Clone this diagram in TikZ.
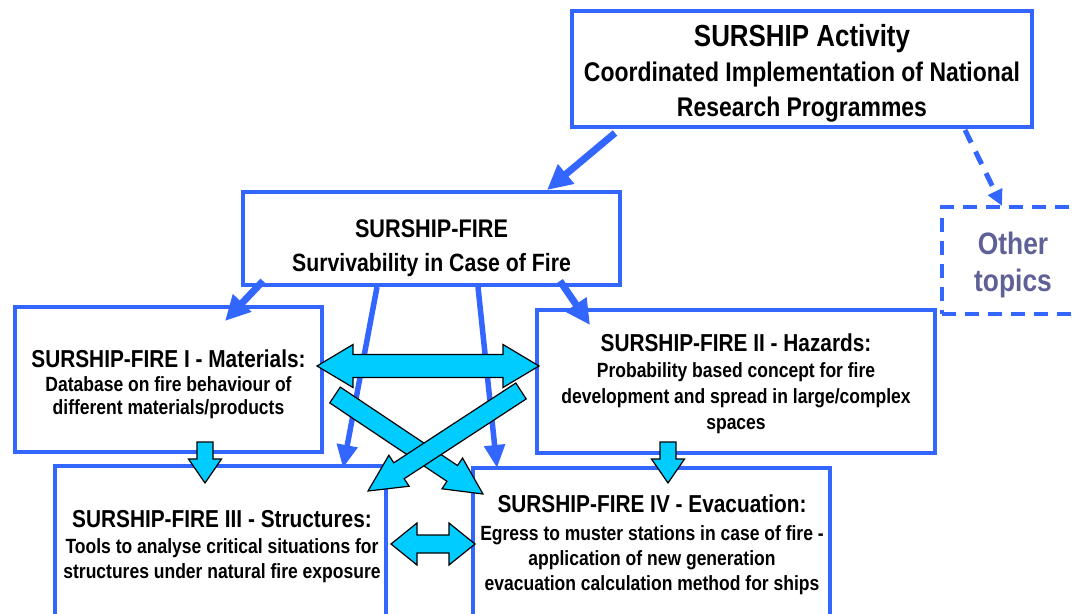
\documentclass[tikz,border=0pt]{standalone}
\usepackage{fontspec}
\setmainfont{Liberation Sans}[FakeStretch=0.85]
\usetikzlibrary{arrows.meta,calc}
\definecolor{bblue}{RGB}{51,102,255}
\definecolor{cyanf}{RGB}{0,204,255}
\definecolor{slate}{RGB}{94,96,150}
\newcommand{\fsz}[1]{\fontsize{#1}{#1}\selectfont\bfseries}
\newcommand\myArrowSingle[5]{%
  \coordinate (hbase) at ($(#2)!#5!(#1)$);
  \draw[cyanarrow] ($(#1)!#3!90:(#2)$) -- ($(hbase)!#3!90:(#2)$) -- ($(hbase)!#4!90:(#2)$) -- (#2)
    -- ($(hbase)!#4!-90:(#2)$) -- ($(hbase)!#3!-90:(#2)$) -- ($(#1)!#3!-90:(#2)$) -- cycle;}
\newcommand\myArrowDouble[5]{%
  \coordinate (hbA) at ($(#1)!#5!(#2)$);
  \coordinate (hbB) at ($(#2)!#5!(#1)$);
  \draw[cyanarrow] (#1) -- ($(hbA)!#4!90:(#2)$) -- ($(hbA)!#3!90:(#2)$) -- ($(hbB)!#3!90:(#2)$)
    -- ($(hbB)!#4!90:(#2)$) -- (#2) -- ($(hbB)!#4!-90:(#2)$) -- ($(hbB)!#3!-90:(#2)$)
    -- ($(hbA)!#3!-90:(#2)$) -- ($(hbA)!#4!-90:(#2)$) -- cycle;}
\begin{document}
\begin{tikzpicture}[x=1pt,y=-1pt,
  box/.style={draw=bblue, line width=4pt, rectangle, inner sep=0pt},
  dbox/.style={box, dash pattern=on 14pt off 9pt},
  txt/.style={anchor=base, inner sep=0pt, text=black},
  conn/.style={draw=bblue, line width=7pt, -{Triangle[length=25pt,width=24pt]}},
  thinconn/.style={draw=bblue, line width=5.5pt, -{Triangle[length=23pt,width=20pt]}},
  dconn/.style={draw=bblue, line width=5pt, dash pattern=on 14pt off 10pt, -{Triangle[length=16pt,width=15pt]}},
  cyanarrow/.style={fill=cyanf, draw=black, line width=1.2pt, line join=miter}]
\useasboundingbox (0,0) rectangle (1078,613);
\clip (0,0) rectangle (1078,613);
% boxes
\node[box, minimum width=460pt, minimum height=116pt] (act) at (802,69) {};
\node[box, minimum width=377pt, minimum height=93pt] (fire) at (431.5,238.5) {};
\node[dbox, minimum width=148pt, minimum height=107pt] (other) at (1016,260.5) {};
\node[box, minimum width=307pt, minimum height=145pt] (mat) at (168.5,379.5) {};
\node[box, minimum width=398pt, minimum height=143pt] (haz) at (736,381.5) {};
\node[box, minimum width=331pt, minimum height=174pt] (str) at (220.5,553) {};
\node[box, minimum width=357pt, minimum height=172pt] (evac) at (651.5,554) {};
% connector end points
\coordinate (a1) at (615,133); \coordinate (a2) at (547,190);
\coordinate (o1) at (965,130); \coordinate (o2) at (1002,206);
\coordinate (m1) at (263,281); \coordinate (m2) at (225,321);
\coordinate (h1) at (560,281); \coordinate (h2) at (590,325);
\coordinate (s1) at (377,287); \coordinate (s2) at (343,468);
\coordinate (e1) at (478,287); \coordinate (e2) at (497,468);
\draw[conn] (a1) -- (a2);
\draw[dconn] (o1) -- (o2);
\draw[conn] (m1) -- (m2);
\draw[conn] (h1) -- (h2);
\draw[thinconn] (s1) -- (s2);
\draw[thinconn] (e1) -- (e2);
% cyan arrows
\coordinate (c1a) at (317,366); \coordinate (c1b) at (539,366);
\coordinate (c2a) at (335,395); \coordinate (c2b) at (483,494);
\coordinate (c3a) at (521,391); \coordinate (c3b) at (368,491);
\coordinate (c4a) at (391,544); \coordinate (c4b) at (475,544);
\coordinate (c5a) at (205,442); \coordinate (c5b) at (205,483);
\coordinate (c6a) at (668,442); \coordinate (c6b) at (668,483);
\myArrowSingle{c2a}{c2b}{9.5pt}{18.5pt}{37pt}
\myArrowSingle{c3a}{c3b}{9.5pt}{18.5pt}{37pt}
\myArrowDouble{c1a}{c1b}{11.5pt}{21.5pt}{36pt}
\myArrowDouble{c4a}{c4b}{9pt}{21pt}{26pt}
\myArrowSingle{c5a}{c5b}{8pt}{16.5pt}{24pt}
\myArrowSingle{c6a}{c6b}{8pt}{16.5pt}{24pt}
% texts
\node[txt] (actT1) at (802,46) {\fsz{30.5}SURSHIP Activity};
\node[txt] (actT2) at (802,81) {\fsz{27}Coordinated Implementation of National};
\node[txt] (actT3) at (802,116) {\fsz{27}Research Programmes};
\node[txt] (fireT1) at (431.5,237) {\fsz{25.5}SURSHIP-FIRE};
\node[txt] (fireT2) at (431.5,271) {\fsz{25}Survivability in Case of Fire};
\node[txt, text=slate] (othT1) at (1013,254) {\fsz{31}Other};
\node[txt, text=slate] (othT2) at (1013,291) {\fsz{31}topics};
\node[txt] (matT1) at (168.5,367) {\fsz{24.5}SURSHIP-FIRE I - Materials:};
\node[txt] (matT2) at (168.5,391) {\fsz{20.6}Database on fire behaviour of};
\node[txt] (matT3) at (168.5,414) {\fsz{20.6}different materials/products};
\node[txt] (hazT1) at (736,351) {\fsz{24.5}SURSHIP-FIRE II - Hazards:};
\node[txt] (hazT2) at (736,377) {\fsz{20.6}Probability based concept for fire};
\node[txt] (hazT3) at (736,403) {\fsz{20.6}development and spread in large/complex};
\node[txt] (hazT4) at (736,429) {\fsz{20.6}spaces};
\node[txt] (strT1) at (222,527) {\fsz{24.5}SURSHIP-FIRE III - Structures:};
\node[txt] (strT2) at (222,553) {\fsz{20.6}Tools to analyse critical situations for};
\node[txt] (strT3) at (222,578) {\fsz{20.6}structures under natural fire exposure};
\node[txt] (evT1) at (652,512) {\fsz{24.5}SURSHIP-FIRE IV - Evacuation:};
\node[txt] (evT2) at (652,540) {\fsz{20.6}Egress to muster stations in case of fire -};
\node[txt] (evT3) at (652,565) {\fsz{20.6}application of new generation};
\node[txt] (evT4) at (652,590) {\fsz{20.6}evacuation calculation method for ships};
\end{tikzpicture}
\end{document}
